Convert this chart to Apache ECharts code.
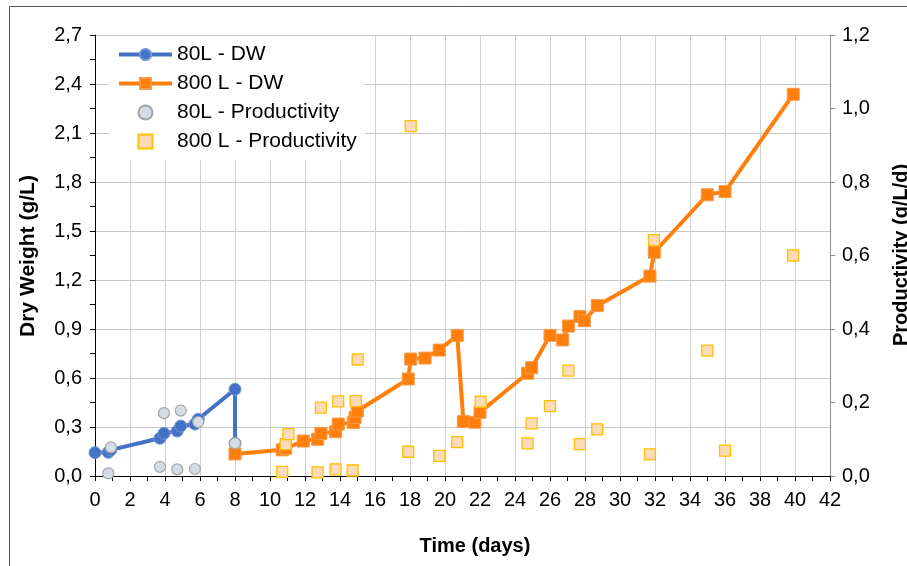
<!DOCTYPE html>
<html>
<head>
<meta charset="utf-8">
<title>Dry weight and productivity</title>
<script src="https://cdn.jsdelivr.net/npm/echarts@6/dist/echarts.min.js"></script>
<style>
  html, body { margin: 0; padding: 0; background: #fff; }
  #chart { width: 907px; height: 566px; }
</style>
</head>
<body>
<div id="chart"></div>
<script>
// 80 L culture: dry weight (g/L) over time (days)
const days80DW = [0, 0.76, 0.91, 3.71, 3.94, 4.70, 4.90, 5.71, 5.90, 8.0, 8.0];
const dw80 = [0.143, 0.145, 0.16, 0.231, 0.261, 0.275, 0.306, 0.318, 0.347, 0.531, 0.20];

// 800 L culture: dry weight (g/L) over time (days)
const days800DW = [8.0, 10.7, 10.9, 11.9, 12.72, 12.91, 13.75, 13.9, 14.76, 14.86, 14.99,
  17.9, 18.04, 18.86, 19.67, 20.7, 21.05, 21.71, 22.0, 24.72, 24.95, 26.0, 26.72,
  27.05, 27.71, 27.96, 28.7, 31.71, 31.96, 34.99, 36.0, 39.9];
const dw800 = [0.135, 0.16, 0.17, 0.214, 0.225, 0.261, 0.271, 0.318, 0.327, 0.359, 0.398,
  0.594, 0.716, 0.722, 0.771, 0.861, 0.333, 0.329, 0.390, 0.629, 0.663, 0.861, 0.833,
  0.918, 0.976, 0.951, 1.043, 1.224, 1.37, 1.722, 1.741, 2.337];

// 80 L culture: productivity (g/L/d)
const days80Prod = [0.76, 0.91, 3.71, 3.94, 4.70, 4.90, 5.71, 5.90, 8.0];
const prod80 = [0.007, 0.078, 0.025, 0.171, 0.018, 0.178, 0.019, 0.147, 0.089];

// 800 L culture: productivity (g/L/d)
const days800Prod = [10.7, 10.9, 11.05, 12.72, 12.91, 13.75, 13.9, 14.72, 14.9, 15.01,
  17.9, 18.04, 19.67, 20.7, 22.04, 24.72, 24.95, 26.0, 27.05, 27.71, 28.7,
  31.71, 31.94, 34.99, 36.0, 39.9];
const prod800 = [0.011, 0.087, 0.114, 0.010, 0.186, 0.018, 0.203, 0.015, 0.204, 0.317,
  0.066, 0.952, 0.055, 0.092, 0.202, 0.089, 0.143, 0.190, 0.287, 0.087, 0.127,
  0.059, 0.642, 0.341, 0.069, 0.600];

const seriesNames = ['80L - DW', '800 L - DW', '80L - Productivity', '800 L - Productivity'];
const xTitle = 'Time (days)';
const yLeftTitle = 'Dry Weight (g/L)';
const yRightTitle = 'Productivity (g/L/d)';

const zip = (xs, ys) => xs.map((x, i) => [x, ys[i]]);
const comma = v => v.toFixed(1).replace('.', ',');

const FONT = '"Liberation Sans", Arial, sans-serif';
const BLUE = '#4472C4';
const ORANGE = '#FF7F0A';
// square legend marker kept at its own aspect inside the wide legend slot
const SQUARE_ICON = 'path://M0,0H10V10H0Z';

const chart = echarts.init(document.getElementById('chart'), null, { renderer: 'canvas' });

chart.setOption({
  animation: false,
  backgroundColor: '#fff',
  textStyle: { fontFamily: FONT },
  grid: { left: 95, right: 77, top: 35, bottom: 90, containLabel: false },
  legend: {
    orient: 'vertical',
    left: 109,
    top: 36,
    padding: [8, 8, 8, 8],
    itemGap: 8,
    itemWidth: 53,
    itemHeight: 14,
    symbolKeepAspect: true,
    backgroundColor: '#fff',
    lineStyle: { width: 4 },
    data: [
      seriesNames[0],
      seriesNames[1],
      seriesNames[2],
      { name: seriesNames[3], icon: SQUARE_ICON }
    ],
    textStyle: { fontFamily: FONT, fontSize: 21, color: '#000' }
  },
  xAxis: {
    type: 'value',
    min: 0, max: 42, interval: 2,
    axisLine: { lineStyle: { color: '#000', width: 1 } },
    axisTick: { show: true, length: 5, lineStyle: { color: '#000' } },
    minorTick: { show: true, splitNumber: 2, length: 5, lineStyle: { color: '#000' } },
    axisLabel: { color: '#000', fontSize: 20, fontFamily: FONT, margin: 14 },
    splitLine: { show: true, lineStyle: { color: '#D0D0D0', width: 1 } }
  },
  yAxis: [
    {
      type: 'value',
      position: 'left',
      min: 0, max: 2.7, interval: 0.3,
      axisLine: { show: true, lineStyle: { color: '#000', width: 1 } },
      axisTick: { show: true, length: 5, lineStyle: { color: '#000' } },
      minorTick: { show: true, splitNumber: 2, length: 5, lineStyle: { color: '#000' } },
      axisLabel: { color: '#000', fontSize: 20, fontFamily: FONT, margin: 13, formatter: comma },
      splitLine: { show: true, lineStyle: { color: '#C8C8C8', width: 1 } }
    },
    {
      type: 'value',
      position: 'right',
      min: 0, max: 1.2, interval: 0.2,
      axisLine: { show: true, lineStyle: { color: '#8C8C8C', width: 1 } },
      axisTick: { show: true, length: 5, lineStyle: { color: '#8C8C8C' } },
      axisLabel: { color: '#000', fontSize: 20, fontFamily: FONT, margin: 12, formatter: comma },
      splitLine: { show: false }
    }
  ],
  series: [
    {
      name: seriesNames[0],
      type: 'line',
      yAxisIndex: 0,
      data: zip(days80DW, dw80),
      symbol: 'circle',
      symbolSize: 12,
      lineStyle: { color: BLUE, width: 4 },
      itemStyle: { color: BLUE, borderColor: '#6E98DA', borderWidth: 1 },
      z: 2
    },
    {
      name: seriesNames[1],
      type: 'line',
      yAxisIndex: 0,
      data: zip(days800DW, dw800),
      symbol: 'rect',
      symbolSize: 12,
      lineStyle: { color: ORANGE, width: 4 },
      itemStyle: { color: ORANGE, borderColor: '#F59A4E', borderWidth: 1 },
      z: 2
    },
    {
      name: seriesNames[2],
      type: 'scatter',
      yAxisIndex: 1,
      data: zip(days80Prod, prod80),
      symbol: 'circle',
      symbolSize: 11,
      itemStyle: { color: '#D6DCE5', borderColor: '#A5A5A5', borderWidth: 1.2, opacity: 1 },
      z: 3
    },
    {
      name: seriesNames[3],
      type: 'scatter',
      yAxisIndex: 1,
      data: zip(days800Prod, prod800),
      symbol: 'rect',
      symbolSize: 11,
      itemStyle: { color: '#FDDBB8', borderColor: '#FFC000', borderWidth: 1.3, opacity: 1 },
      z: 3
    }
  ],
  graphic: [
    {
      type: 'rect',
      silent: true,
      shape: { x: 9.5, y: 6.5, width: 1000, height: 1000 },
      style: { fill: 'none', stroke: '#595959', lineWidth: 1 },
      z: -10
    },
    {
      type: 'text',
      x: 28, y: 256,
      rotation: Math.PI / 2,
      style: {
        text: yLeftTitle, font: 'bold 21px ' + FONT, fill: '#000',
        textAlign: 'center', textVerticalAlign: 'middle', align: 'center', verticalAlign: 'middle'
      }
    },
    {
      type: 'text',
      x: 901, y: 255,
      rotation: Math.PI / 2,
      style: {
        text: yRightTitle, font: 'bold 20px ' + FONT, fill: '#000',
        textAlign: 'center', textVerticalAlign: 'middle', align: 'center', verticalAlign: 'middle'
      }
    },
    {
      type: 'text',
      x: 475, y: 546,
      style: {
        text: xTitle, font: 'bold 20px ' + FONT, fill: '#000',
        textAlign: 'center', textVerticalAlign: 'middle', align: 'center', verticalAlign: 'middle'
      }
    }
  ]
});
</script>
</body>
</html>
